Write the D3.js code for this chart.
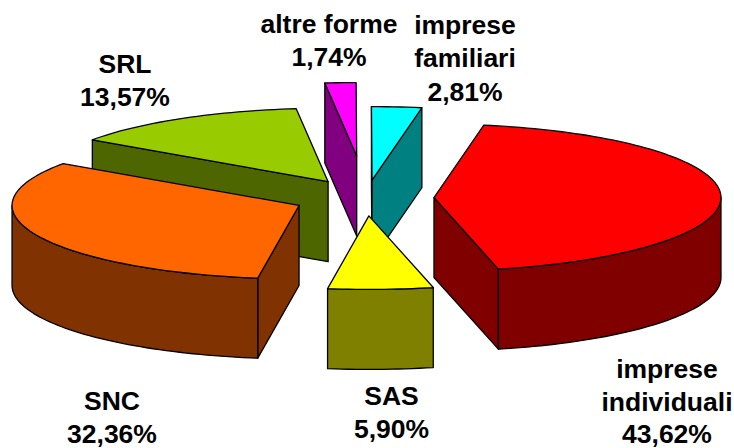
<!DOCTYPE html>
<html><head><meta charset="utf-8">
<script src="https://cdn.jsdelivr.net/npm/d3@7/dist/d3.min.js"></script>
<style>html,body{margin:0;padding:0;background:#fff}svg{display:block}
text{font-family:"Liberation Sans",Arial,sans-serif;font-weight:bold;font-size:26.5px;fill:#000;text-anchor:middle}</style>
</head><body><svg id="c" width="734" height="448"></svg>
<script>
const categories = ["imprese individuali","SAS","SNC","SRL","altre forme","imprese familiari"];
const values = [43.62,5.90,32.36,13.57,1.74,2.81];
const topColors = ["#FF0000","#FFFF00","#FF6600","#99CC00","#FF00FF","#00FFFF"];
const sideColors = ["#800000","#808000","#803300","#4D6600","#800080","#008080"];
const explode = [68,70,73,74,164,70];
const labelLines = [["imprese","individuali"],["SAS"],["SNC"],["SRL"],["altre forme"],["imprese","familiari"]];
const labelX = [667,391.5,112,125,329,465];
const labelY = [[377.5,411,442.5],[404.5,438],[410,442.5],[72.5,105.5],[32.5,66],[33.5,67,101]];

const cx=366, cy=198, rx=287, ry=73.5, depth=80;
const X=d3.scaleLinear().domain([-1,1]).range([-rx,rx]);
const Y=d3.scaleLinear().domain([-1,1]).range([-ry,ry]);
const deg=Math.PI/180;
const arcs=d3.pie().sort(null).value(d=>d).startAngle(10*deg).endAngle(370*deg)(values);
const fmt=d3.formatLocale({decimal:",",thousands:".",grouping:[3],currency:["","%"]}).format(".2f");
const line=d3.line();
const svg=d3.select("#c");

const parts=arcs.map((a,i)=>{
  const mid=(a.startAngle+a.endAngle)/2;
  const ax=cx+explode[i]*Math.sin(mid);
  const ay=cy-explode[i]*Math.cos(mid)*ry/rx;
  return {a,i,ax,ay};
}).sort((p,q)=>p.ay-q.ay);

function pt(p,t,dy=0){return [p.ax+X(Math.sin(t)),p.ay+Y(-Math.cos(t))+dy];}
function arcPts(p,t0,t1,dy=0){
  const n=Math.max(2,Math.ceil((t1-t0)/(deg*1.5)));
  return d3.range(n+1).map(k=>pt(p,t0+(t1-t0)*k/n,dy));
}
function poly(points,fill){
  svg.append("path").attr("d",line(points)+"Z").attr("fill",fill)
    .attr("stroke","#000").attr("stroke-width",1.3).attr("stroke-linejoin","round");
}
parts.forEach(p=>{
  const {a,i,ax,ay}=p, s=a.startAngle, e=a.endAngle, side=sideColors[i];
  const face=t=>{const q=pt(p,t);poly([[ax,ay],q,[q[0],q[1]+depth],[ax,ay+depth]],side);};
  if(Math.sin(s)<0) face(s);
  if(Math.sin(e)>0) face(e);
  const f0=Math.max(s,90*deg), f1=Math.min(e,270*deg);
  if(f1>f0) poly(arcPts(p,f0,f1).concat(arcPts(p,f0,f1,depth).reverse()),side);
  poly([[ax,ay]].concat(arcPts(p,s,e)),topColors[i]);
});
categories.forEach((c,i)=>{
  const lines=labelLines[i].concat([fmt(values[i])+"%"]);
  const t=svg.append("text");
  lines.forEach((l,k)=>t.append("tspan").attr("x",labelX[i]).attr("y",labelY[i][k]).text(l));
});
</script></body></html>
